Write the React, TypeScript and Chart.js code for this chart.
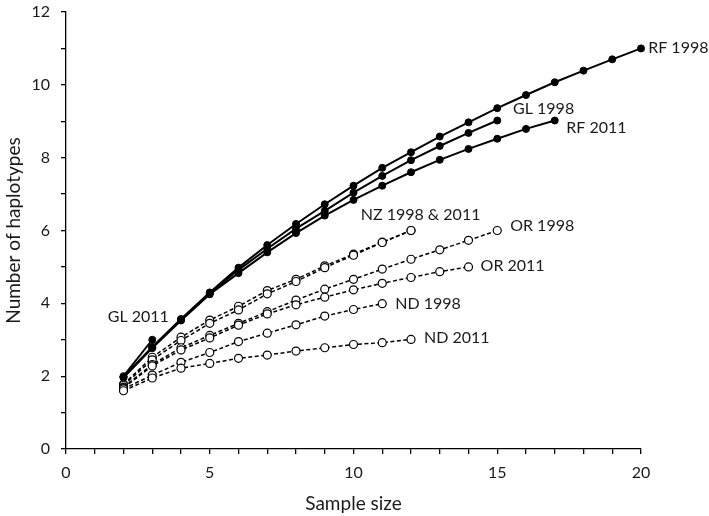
import { useEffect, useRef } from 'react';
import { Chart, registerables } from 'chart.js';

Chart.register(...registerables);

// Sample sizes start at 2 for every series
const sampleStart = 2;

// Filled-circle series (solid lines)
const rf1998 = [1.98, 2.8, 3.57, 4.3, 4.98, 5.6, 6.18, 6.72, 7.23, 7.72, 8.15, 8.58, 8.97, 9.36, 9.72, 10.07, 10.39, 10.7, 11.0];
const gl1998 = [1.97, 2.79, 3.55, 4.27, 4.92, 5.5, 6.05, 6.54, 7.04, 7.5, 7.93, 8.32, 8.68, 9.02];
const rf2011 = [1.96, 2.77, 3.53, 4.25, 4.83, 5.4, 5.93, 6.41, 6.84, 7.23, 7.6, 7.94, 8.24, 8.52, 8.79, 9.02];
const gl2011 = [2.0, 3.0];

// Open-circle series (dashed lines)
const nz1998 = [1.78, 2.52, 3.07, 3.54, 3.92, 4.35, 4.66, 5.03, 5.35, 5.68, 6.0];
const nz2011 = [1.75, 2.45, 2.98, 3.45, 3.82, 4.26, 4.6, 4.98, 5.32, 5.67, 6.0];
const or1998 = [1.7, 2.32, 2.78, 3.12, 3.45, 3.77, 4.09, 4.39, 4.66, 4.94, 5.21, 5.47, 5.73, 6.0];
const or2011 = [1.68, 2.28, 2.72, 3.05, 3.4, 3.71, 3.96, 4.17, 4.37, 4.55, 4.71, 4.87, 5.0];
const nd1998 = [1.65, 2.03, 2.38, 2.65, 2.95, 3.18, 3.41, 3.65, 3.83, 3.99];
const nd2011 = [1.6, 1.95, 2.22, 2.35, 2.49, 2.58, 2.69, 2.78, 2.87, 2.92, 3.01];

// Series annotations (text + anchor in data units)
const labelTexts = ['RF 1998', 'GL 1998', 'RF 2011', 'NZ 1998 & 2011', 'OR 1998', 'OR 2011', 'ND 1998', 'ND 2011', 'GL 2011'];
const labelXs = [20.25, 15.55, 17.4, 10.25, 15.45, 14.42, 11.45, 12.45, 1.45];
const labelYs = [11.02, 9.34, 8.83, 6.42, 6.12, 5.04, 3.98, 3.04, 3.63];

// Axis ranges
const xMin = 0, xMax = 20, xLabelEvery = 5;
const yMin = 0, yMax = 12, yLabelEvery = 2;

const FONT = 'Lato, "Open Sans", sans-serif';
const TEXT = '#1a1a1a';

const toPoints = (vals: number[]) => vals.map((y, i) => ({ x: sampleStart + i, y }));

const solid = (label: string, vals: number[]) => ({
  label,
  data: toPoints(vals),
  borderColor: '#000',
  backgroundColor: '#000',
  borderWidth: 2,
  pointRadius: 3.5,
  pointBackgroundColor: '#000',
  pointBorderColor: '#000',
  pointBorderWidth: 1,
  showLine: true,
  clip: false as const,
});

const dashed = (label: string, vals: number[]) => ({
  label,
  data: toPoints(vals),
  borderColor: '#000',
  backgroundColor: '#fff',
  borderWidth: 1.5,
  borderDash: [4, 2.5],
  pointRadius: 4,
  pointBackgroundColor: '#fff',
  pointBorderColor: '#000',
  pointBorderWidth: 1.2,
  showLine: true,
  clip: false as const,
});

const labelPlugin = {
  id: 'seriesLabels',
  afterDatasetsDraw(chart: any) {
    const { ctx, scales } = chart;
    ctx.save();
    ctx.font = `16px ${FONT}`;
    ctx.fillStyle = TEXT;
    ctx.textAlign = 'left';
    ctx.textBaseline = 'middle';
    labelTexts.forEach((t, i) => {
      ctx.fillText(t, scales.x.getPixelForValue(labelXs[i]), scales.y.getPixelForValue(labelYs[i]));
    });
    ctx.restore();
  },
};

export default function App() {
  const ref = useRef<HTMLCanvasElement | null>(null);
  useEffect(() => {
    if (!ref.current) return;
    const chart = new Chart(ref.current, {
      type: 'scatter',
      data: {
        datasets: [
          dashed('ND 2011', nd2011),
          dashed('ND 1998', nd1998),
          dashed('OR 2011', or2011),
          dashed('OR 1998', or1998),
          dashed('NZ 2011', nz2011),
          dashed('NZ 1998', nz1998),
          solid('GL 2011', gl2011),
          solid('RF 2011', rf2011),
          solid('GL 1998', gl1998),
          solid('RF 1998', rf1998),
        ] as any,
      },
      options: {
        animation: false,
        responsive: false,
        maintainAspectRatio: false,
        events: [],
        layout: { padding: { top: 12, right: 68, left: 0, bottom: 0 } },
        plugins: { legend: { display: false }, tooltip: { enabled: false } },
        scales: {
          x: {
            type: 'linear',
            min: xMin,
            max: xMax,
            afterFit: (s: any) => { s.height = 67; },
            border: { display: true, color: '#000', width: 1.3 },
            grid: { display: true, drawOnChartArea: false, drawTicks: true, tickLength: 5, color: '#000', lineWidth: 1.3 },
            ticks: {
              stepSize: 1,
              autoSkip: false,
              maxRotation: 0,
              padding: 9,
              color: TEXT,
              font: { family: FONT, size: 16 },
              callback: (v: any) => (Number(v) % xLabelEvery === 0 ? String(v) : ''),
            },
            title: { display: true, text: 'Sample size', color: TEXT, font: { family: FONT, size: 19 }, padding: { top: 4, bottom: 1 } },
          },
          y: {
            type: 'linear',
            min: yMin,
            max: yMax,
            afterFit: (s: any) => { s.width = 66; s.paddingTop = 0; s.paddingBottom = 0; },
            border: { display: true, color: '#000', width: 1.3 },
            grid: { display: true, drawOnChartArea: false, drawTicks: true, tickLength: 5, color: '#000', lineWidth: 1.3 },
            ticks: {
              stepSize: 1,
              autoSkip: false,
              padding: 11,
              color: TEXT,
              font: { family: FONT, size: 16 },
              callback: (v: any) => (Number(v) % yLabelEvery === 0 ? String(v) : ''),
            },
            title: { display: true, text: 'Number of haplotypes', color: TEXT, font: { family: FONT, size: 19 }, padding: { top: 2, bottom: 4 } },
          },
        },
      },
      plugins: [labelPlugin],
    });
    return () => chart.destroy();
  }, []);
  return (
    <div style={{ position: 'fixed', left: 0, top: 0, width: 709, height: 516, background: '#fff' }}>
      <canvas ref={ref} width={709} height={516} style={{ display: 'block' }} />
    </div>
  );
}
